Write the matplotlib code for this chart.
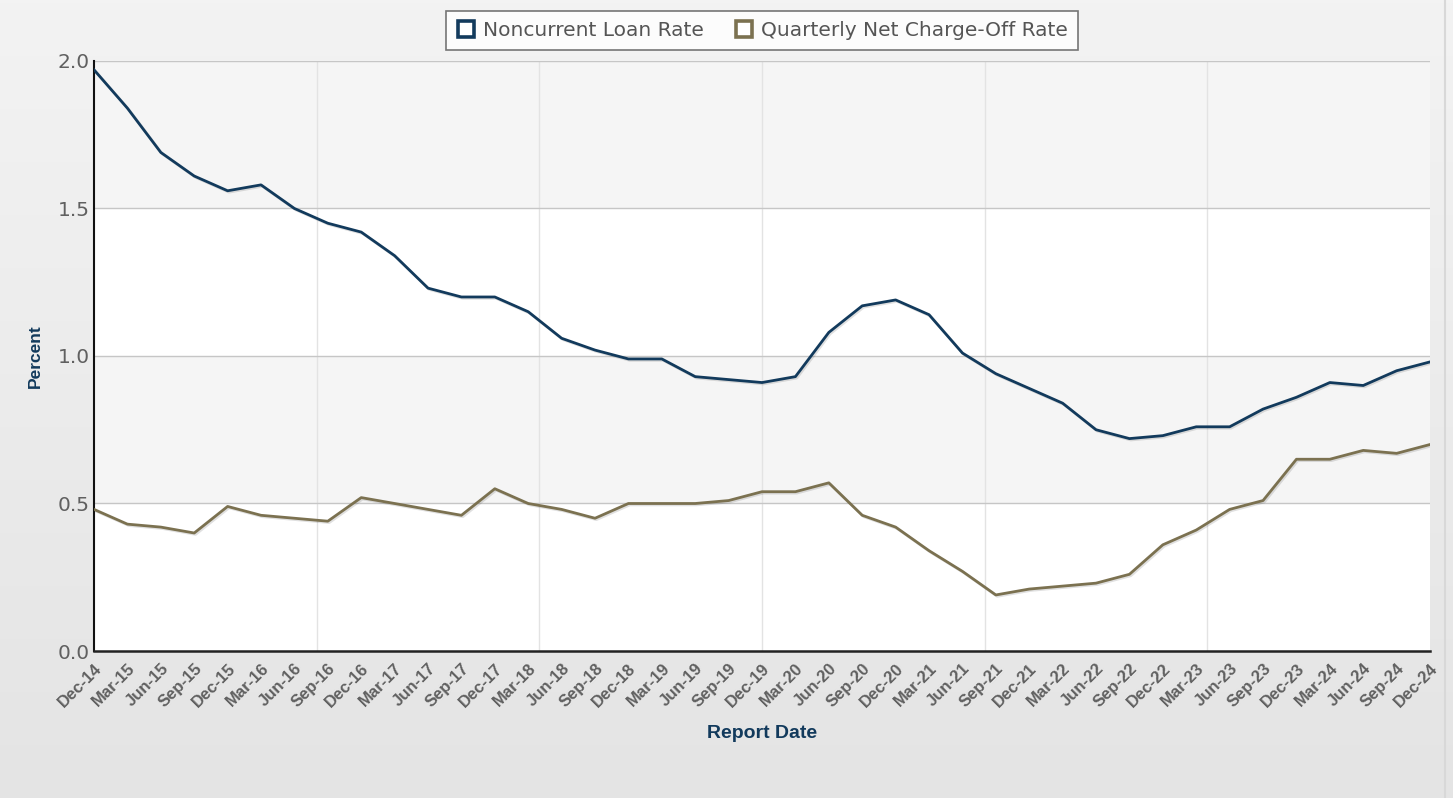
import numpy as np
import matplotlib
matplotlib.use("Agg")
import matplotlib.pyplot as plt
from matplotlib.lines import Line2D
import matplotlib.patheffects as pe

dates = ["Dec-14", "Mar-15", "Jun-15", "Sep-15", "Dec-15", "Mar-16", "Jun-16", "Sep-16",
         "Dec-16", "Mar-17", "Jun-17", "Sep-17", "Dec-17", "Mar-18", "Jun-18", "Sep-18",
         "Dec-18", "Mar-19", "Jun-19", "Sep-19", "Dec-19", "Mar-20", "Jun-20", "Sep-20",
         "Dec-20", "Mar-21", "Jun-21", "Sep-21", "Dec-21", "Mar-22", "Jun-22", "Sep-22",
         "Dec-22", "Mar-23", "Jun-23", "Sep-23", "Dec-23", "Mar-24", "Jun-24", "Sep-24",
         "Dec-24"]

noncurrent = [1.97, 1.84, 1.69, 1.61, 1.56, 1.58, 1.50, 1.45, 1.42, 1.34, 1.23, 1.20,
              1.20, 1.15, 1.06, 1.02, 0.99, 0.99, 0.93, 0.92, 0.91, 0.93, 1.08, 1.17,
              1.19, 1.14, 1.01, 0.94, 0.89, 0.84, 0.75, 0.72, 0.73, 0.76, 0.76, 0.82,
              0.86, 0.91, 0.90, 0.95, 0.98]

chargeoff = [0.48, 0.43, 0.42, 0.40, 0.49, 0.46, 0.45, 0.44, 0.52, 0.50, 0.48, 0.46,
             0.55, 0.50, 0.48, 0.45, 0.50, 0.50, 0.50, 0.51, 0.54, 0.54, 0.57, 0.46,
             0.42, 0.34, 0.27, 0.19, 0.21, 0.22, 0.23, 0.26, 0.36, 0.41, 0.48, 0.51,
             0.65, 0.65, 0.68, 0.67, 0.70]

navy = "#123a5c"
olive = "#7b7150"

fig = plt.figure(figsize=(14.53, 7.98), dpi=100)

# gradient background
bg = fig.add_axes([0, 0, 1, 1], zorder=-10)
grad = np.linspace(0, 1, 256).reshape(-1, 1)
bg.imshow(grad, aspect="auto", cmap=matplotlib.colors.LinearSegmentedColormap.from_list(
    "g", ["#f3f3f3", "#e4e4e4"]), extent=[0, 1, 0, 1], origin="upper")
bg.plot([0.9945, 0.9945], [0, 1], color="#d8d8d8", lw=1.5)
bg.set_xlim(0, 1)
bg.set_ylim(0, 1)
bg.axis("off")

ax = fig.add_axes([0.0647, 0.1842, 0.9195, 0.7394])
x = np.arange(len(dates))
n = len(dates) - 1

# alternating bands
ax.set_facecolor("white")
for lo in [0.5, 1.5]:
    ax.axhspan(lo, lo + 0.5, color="#f5f5f5", zorder=0, lw=0)

for i in range(1, 6):
    ax.axvline(i * n / 6, color="#e3e3e3", lw=1, zorder=1)
for yv in [0.5, 1.0, 1.5, 2.0]:
    ax.axhline(yv, color="#c6c6c6", lw=1, zorder=1)

shadow = [pe.SimpleLineShadow(offset=(1, -1), alpha=0.12, shadow_color="black"), pe.Normal()]
ax.plot(x, noncurrent, color=navy, lw=2, zorder=3, path_effects=shadow)
ax.plot(x, chargeoff, color=olive, lw=2, zorder=3, path_effects=shadow)

ax.set_xlim(0, n)
ax.set_ylim(0, 2.0)
ax.set_yticks([0.0, 0.5, 1.0, 1.5, 2.0])
ax.set_yticklabels(["0.0", "0.5", "1.0", "1.5", "2.0"], fontsize=14.5, color="#606060",
                   family="DejaVu Sans")
ax.set_xticks(x)
ax.set_xticklabels(dates, rotation=45, ha="right", rotation_mode="anchor",
                   fontsize=12, fontweight="bold", color="#606060", family="Liberation Sans")
ax.tick_params(axis="x", length=0, pad=7)
ax.tick_params(axis="y", length=0, pad=3)

for s in ["top", "right"]:
    ax.spines[s].set_visible(False)
ax.spines["left"].set_color("#111111")
ax.spines["left"].set_linewidth(1.5)
ax.spines["bottom"].set_color("#222222")
ax.spines["bottom"].set_linewidth(1.8)

ax.set_ylabel("Percent", fontsize=12.5, fontweight="bold", color=navy, family="Liberation Sans",
              va="center")
ax.yaxis.set_label_coords(-0.044, 0.5)
ax.set_xlabel("Report Date", fontsize=14, fontweight="bold", color=navy, family="Liberation Sans",
              va="center")
ax.xaxis.set_label_coords(0.5, -0.139)

handles = [Line2D([], [], ls="none", marker="s", ms=12, mfc="white", mec=navy, mew=2.6),
           Line2D([], [], ls="none", marker="s", ms=12, mfc="white", mec=olive, mew=2.6)]
leg = fig.legend(handles, ["Noncurrent Loan Rate", "Quarterly Net Charge-Off Rate"],
                 loc="center", bbox_to_anchor=(0.5244, 0.9618), ncol=2, frameon=True,
                 fancybox=False, edgecolor="#555555", prop={"family": "DejaVu Sans", "size": 14.5},
                 handletextpad=0.35, columnspacing=1.5, borderpad=0.5, handlelength=1.0)
leg.get_frame().set_linewidth(1.2)
for t in leg.get_texts():
    t.set_color("#555555")

fig.savefig("out.png", dpi=100)
